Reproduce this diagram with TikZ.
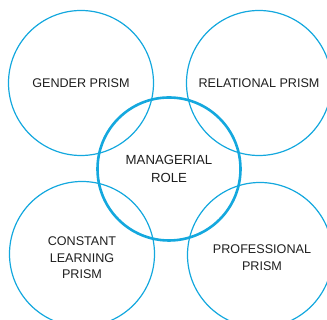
\documentclass[tikz,border=0pt]{standalone}
\usepackage{fontspec}
\setmainfont{Liberation Sans}
\definecolor{prismblue}{RGB}{20,168,222}
\definecolor{prismtext}{RGB}{30,30,30}
\tikzset{
	prism/.style={circle,draw=prismblue,line width=1.2pt,minimum size=145pt,inner sep=0pt},
	role/.style={prism,line width=2.6pt,minimum size=143pt},
	prismlabel/.style={align=center,text=prismtext,inner sep=0pt,font=\fontsize{12.6}{16.5}\selectfont}
}
\begin{document}
\begin{tikzpicture}[x=1pt,y=1pt]
	\useasboundingbox (0,0) rectangle (327,320);
	
	%OUTER PRISMS
	\node[prism] (gender) at (81,237) {};
	\node[prism] (relational) at (259,237) {};
	\node[prism] (learning) at (82,66) {};
	\node[prism] (professional) at (260,65) {};
	
	%CENTRE
	\node[role] (role) at (169,151) {};
	
	%LABELS
	\node[prismlabel] (gendertext) at (gender) {GENDER PRISM};
	\node[prismlabel] (relationaltext) at (relational) {RELATIONAL PRISM};
	\node[prismlabel] (learningtext) at (82,62) {CONSTANT\\LEARNING\\PRISM};
	\node[prismlabel] (professionaltext) at (262,62.5) {PROFESSIONAL\\PRISM};
	\node[prismlabel,font=\fontsize{13.2}{17.5}\selectfont] (roletext) at (role) {MANAGERIAL\\ROLE};
\end{tikzpicture}
\end{document}
